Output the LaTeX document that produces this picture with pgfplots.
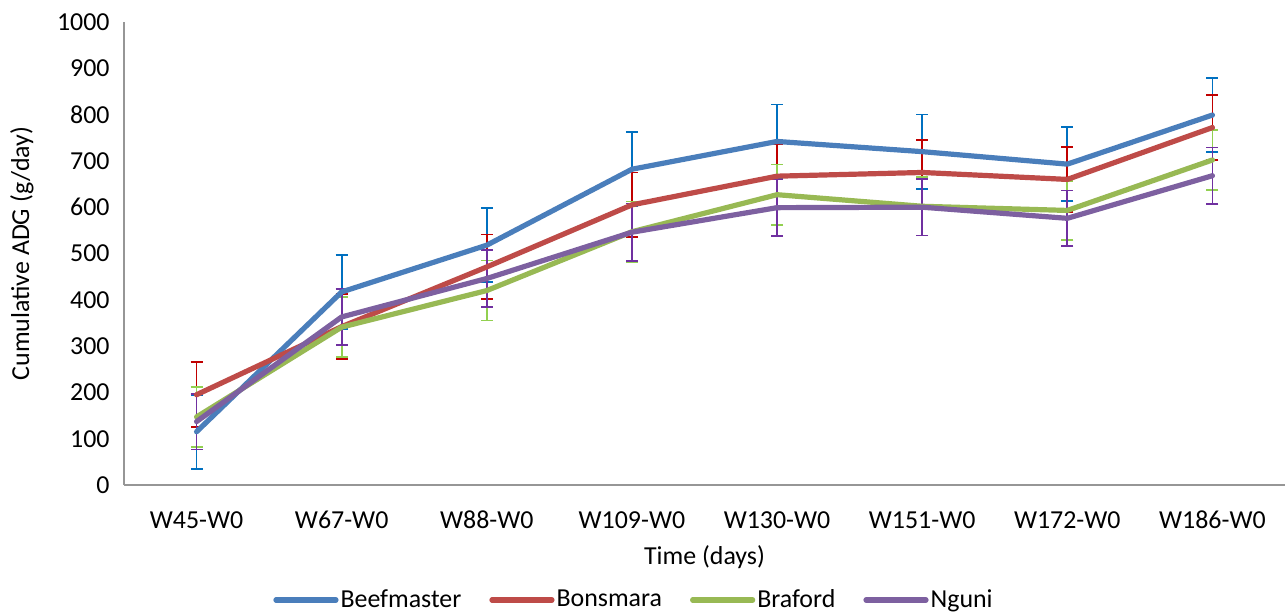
\documentclass[border=0pt]{standalone}
\usepackage{fontspec}
\setmainfont{Carlito}
\usepackage{pgfplots}
\pgfplotsset{compat=1.18}
\usepackage{pgfplotstable}

\definecolor{lnBeef}{RGB}{74,126,187}
\definecolor{lnBons}{RGB}{190,75,72}
\definecolor{lnBraf}{RGB}{152,185,84}
\definecolor{lnNgun}{RGB}{125,96,160}
\definecolor{ebBeef}{RGB}{0,112,192}
\definecolor{ebBons}{RGB}{192,0,0}
\definecolor{ebBraf}{RGB}{146,208,80}
\definecolor{ebNgun}{RGB}{112,48,160}
\definecolor{axgray}{RGB}{150,150,150}

% cumulative ADG (g/day) with standard errors
\pgfplotstableread{
x y e
0 115 80
1 417 80
2 518 80
3 682 80
4 742 80
5 720 80
6 693 80
7 799 80
}\beefmaster
\pgfplotstableread{
x y e
0 195 70
1 342 70
2 471 70
3 605 70
4 667 70
5 675 70
6 660 70
7 772 70
}\bonsmara
\pgfplotstableread{
x y e
0 147 65
1 341 65
2 420 65
3 547 65
4 627 65
5 602 63
6 593 64
7 702 65
}\braford
\pgfplotstableread{
x y e
0 137 60
1 363 61
2 446 61
3 546 62
4 599 61
5 600 61
6 576 60
7 668 61
}\nguni

\pgfplotsset{
  errbar/.style={draw=none, forget plot,
    error bars/.cd, y dir=both, y explicit,
    error bar style={draw=#1, line width=0.85bp},
    error mark options={draw=#1, rotate=90, mark size=3bp, line width=0.85bp}},
  series/.style={draw=#1, line width=2.6bp, mark=none, line join=round, line cap=round}
}

\begin{document}
\begin{tikzpicture}
\begin{axis}[
  at={(62bp,63.5bp)}, anchor=south west,
  scale only axis, width=580.5bp, height=231.5bp,
  xmin=-0.5, xmax=7.5, ymin=0, ymax=1000,
  clip=false,
  axis x line=bottom, axis y line=left,
  axis line style={draw=axgray, line width=0.8bp, -},
  major tick length=0pt,
  xtick={0,...,7},
  xticklabels={W45-W0,W67-W0,W88-W0,W109-W0,W130-W0,W151-W0,W172-W0,W186-W0},
  ytick={0,100,...,1000},
  /pgf/number format/assume math mode=true,
  /pgf/number format/1000 sep={},
  tick label style={font=\fontsize{13}{15}\selectfont, text=black},
  yticklabel style={anchor=east, inner sep=0pt, xshift=-7bp},
  xticklabel style={anchor=center, inner sep=0pt, yshift=-17.5bp},
  xlabel={Time (days)},
  ylabel={Cumulative ADG (g/day)},
  label style={font=\fontsize{13}{15}\selectfont},
  xlabel style={at={(axis description cs:0.5,-0.1555)}, anchor=center, inner sep=0pt},
  ylabel style={at={(axis description cs:-0.0879,0.5)}, anchor=center, inner sep=0pt},
  legend columns=4,
  legend style={at={(axis description cs:0.4393,-0.2484)}, anchor=center,
    draw=none, fill=none, font=\fontsize{13}{15}\selectfont,
    nodes={inner sep=1bp},
    /tikz/every even column/.append style={column sep=13bp}},
  legend cell align=left,
  legend image code/.code={\draw[#1] (0bp,0bp) -- (30bp,0bp);},
]
% error bars underneath the lines
\addplot[errbar=ebBeef] table[x=x, y=y, y error=e]{\beefmaster};
\addplot[errbar=ebBons] table[x=x, y=y, y error=e]{\bonsmara};
\addplot[errbar=ebBraf] table[x=x, y=y, y error=e]{\braford};
\addplot[errbar=ebNgun] table[x=x, y=y, y error=e]{\nguni};
% breed means
\addplot[series=lnBeef] table[x=x, y=y]{\beefmaster};
\addlegendentry{Beefmaster}
\addplot[series=lnBons] table[x=x, y=y]{\bonsmara};
\addlegendentry{Bonsmara}
\addplot[series=lnBraf] table[x=x, y=y]{\braford};
\addlegendentry{Braford}
\addplot[series=lnNgun] table[x=x, y=y]{\nguni};
\addlegendentry{Nguni}
\end{axis}
\pgfresetboundingbox
\useasboundingbox (0,0) rectangle (642.5bp,306bp);
\end{tikzpicture}
\end{document}
